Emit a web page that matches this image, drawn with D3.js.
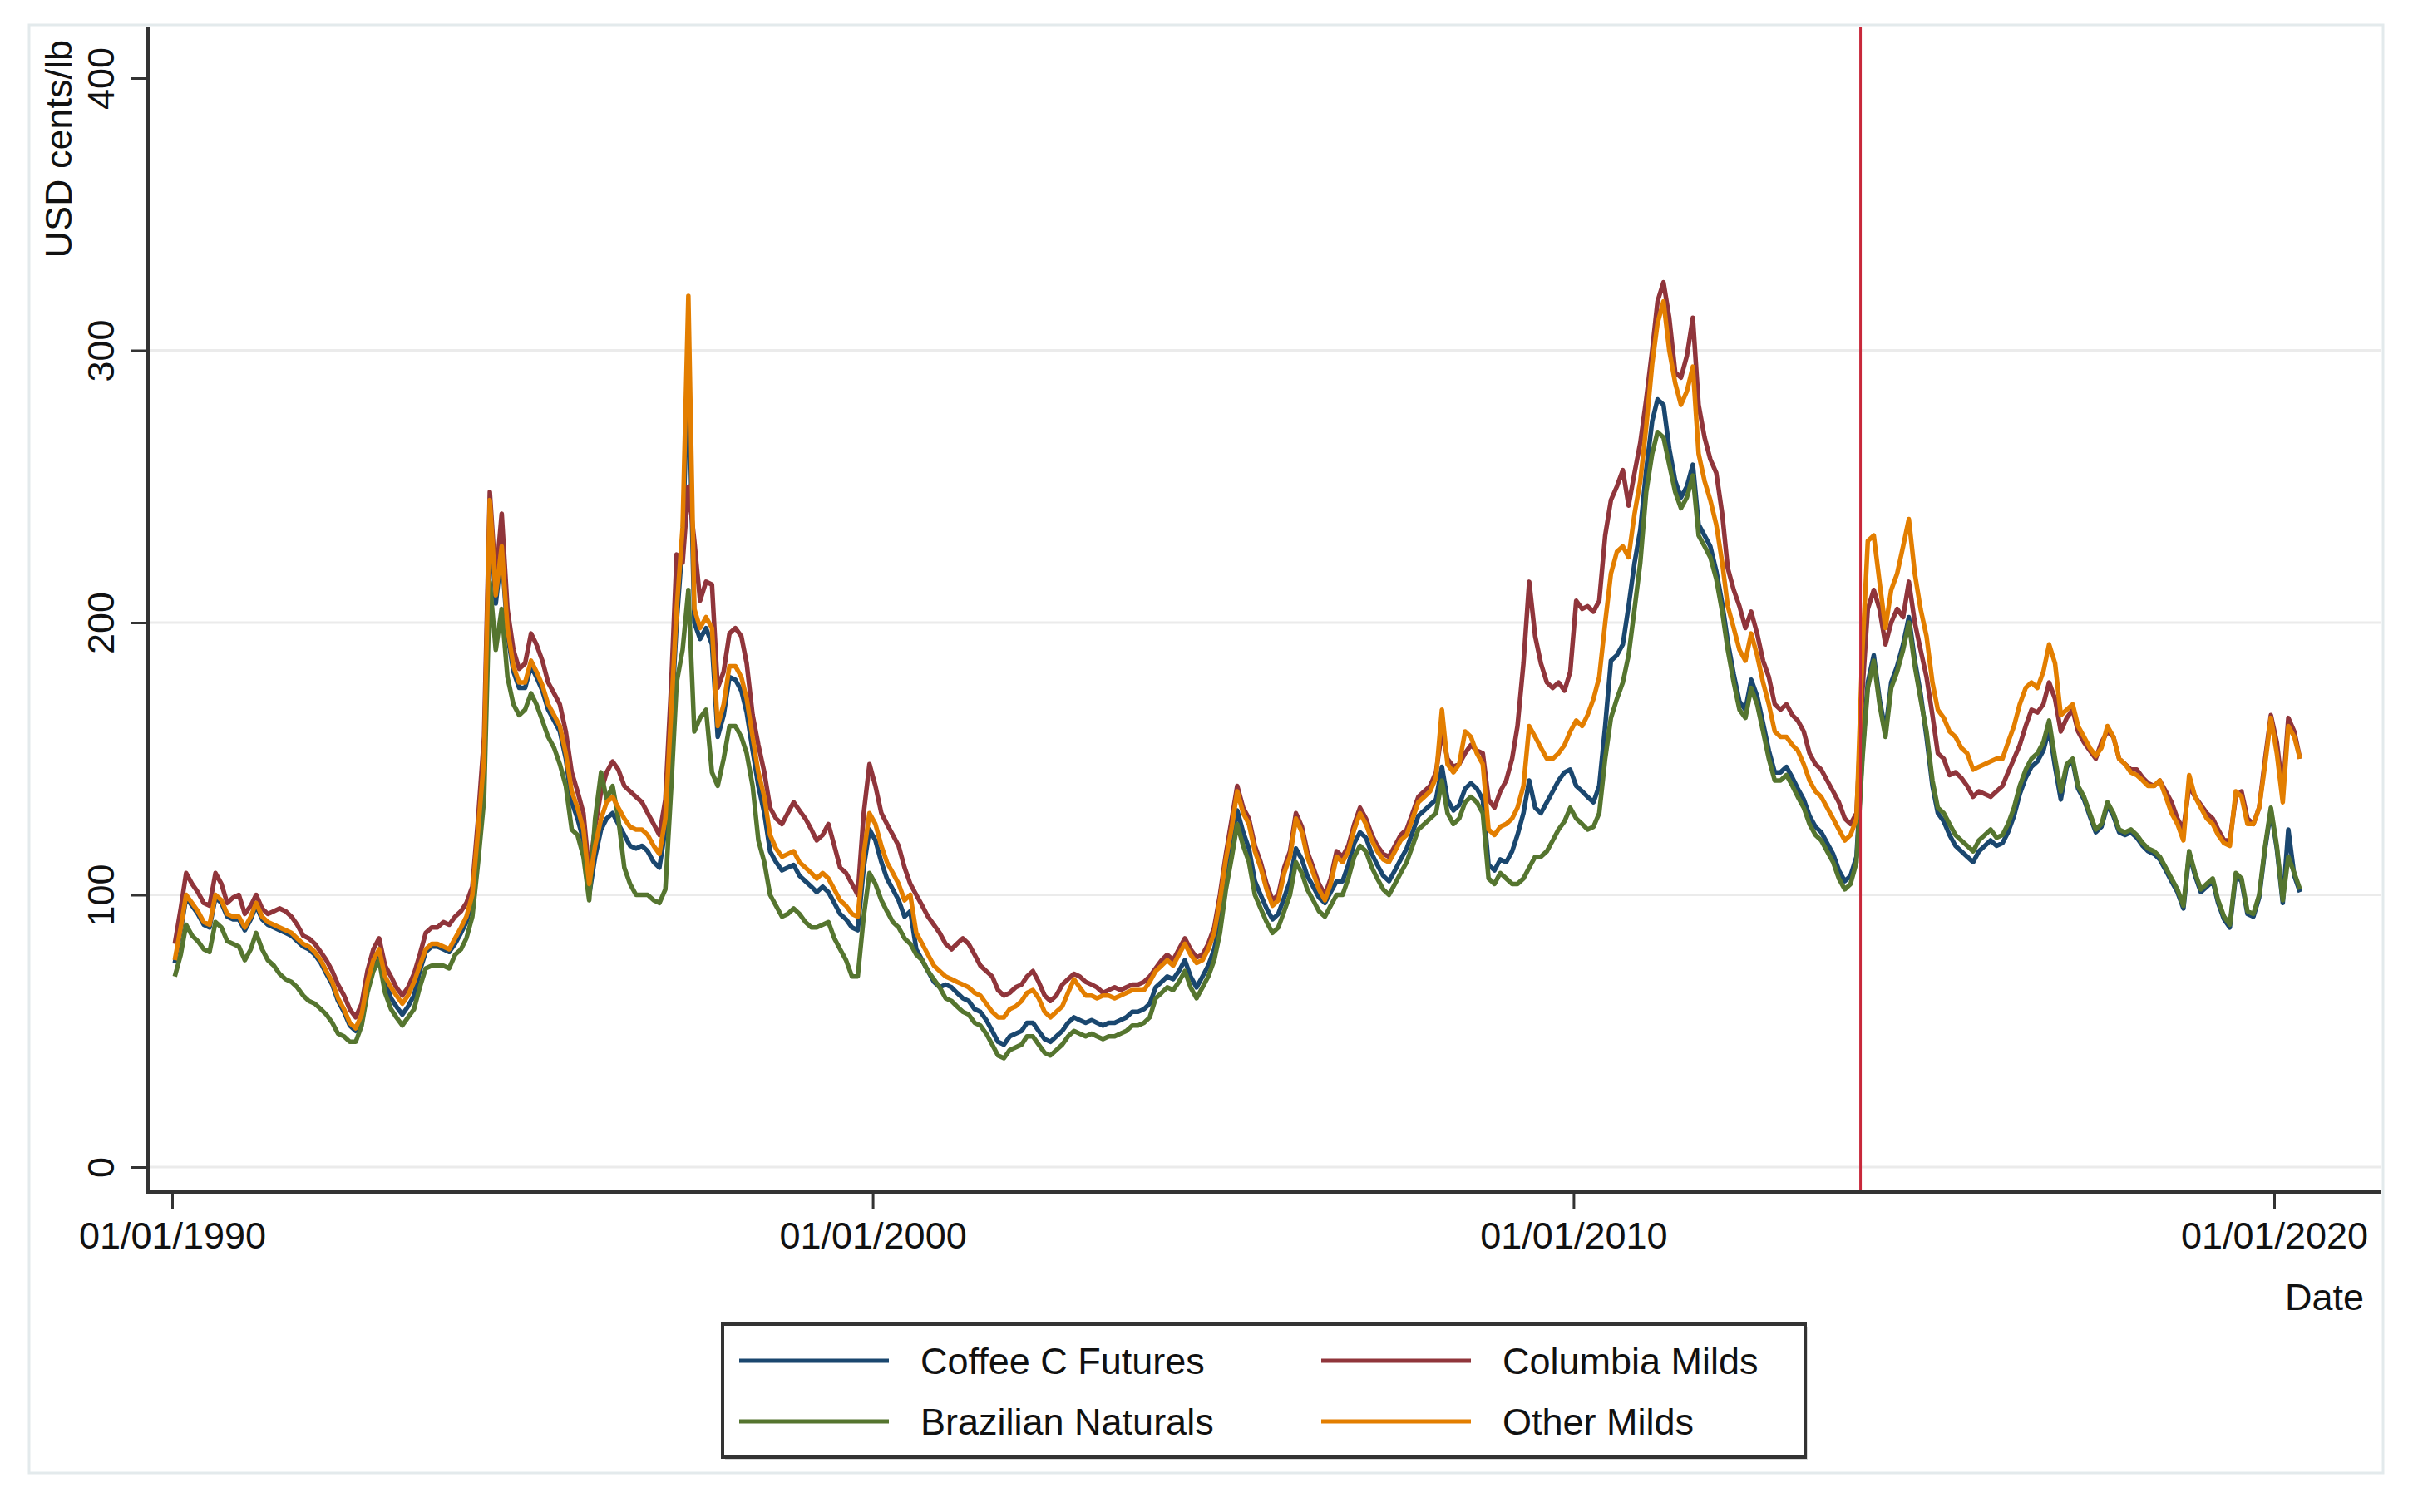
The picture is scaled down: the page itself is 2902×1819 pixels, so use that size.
<!DOCTYPE html>
<html>
<head>
<meta charset="utf-8">
<script src="https://cdn.jsdelivr.net/npm/d3@7"></script>
<style>
  body { margin: 0; background: #fff; }
  svg { display: block; font-family: "Liberation Sans", Arial, Helvetica, sans-serif; }
</style>
</head>
<body>
<svg width="2902" height="1819"></svg>
<script>
// Monthly prices (US cents/lb), Jan 1990 .. May 2020
const coffeeCFutures = [
  75, 87, 99, 96, 93, 89, 88, 99, 97, 92, 91, 91,
  87, 91, 96, 91, 89, 88, 87, 86, 85, 83, 81, 80,
  78, 75, 71, 67, 61, 57, 52, 50, 55, 66, 74, 78,
  68, 62, 59, 56, 59, 63, 72, 79, 81, 81, 80, 79,
  82, 86, 90, 98, 121, 147, 240, 207, 226, 196, 182, 176,
  176, 184, 180, 175, 168, 164, 160, 150, 134, 128, 120, 100,
  114, 124, 128, 130, 126, 122, 118, 117, 118, 116, 112, 110,
  124, 164, 200, 230, 295, 200, 194, 198, 192, 158, 166, 180,
  179, 175, 167, 153, 140, 130, 116, 112, 109, 110, 111, 107,
  105, 103, 101, 103, 101, 97, 93, 91, 88, 87, 110, 124,
  120, 112, 106, 102, 98, 92, 94, 80, 76, 72, 68, 66,
  67, 66, 64, 62, 61, 58, 57, 54, 50, 46, 45, 48,
  49, 50, 53, 53, 50, 47, 46, 48, 50, 53, 55, 54,
  53, 54, 53, 52, 53, 53, 54, 55, 57, 57, 58, 60,
  66, 68, 70, 69, 72, 76, 70, 66, 70, 74, 80, 90,
  107, 119, 131, 123, 117, 105, 100, 95, 91, 93, 99, 105,
  117, 113, 107, 103, 99, 97, 101, 105, 105, 111, 119, 123,
  121, 115, 111, 107, 105, 109, 113, 117, 123, 129, 131, 133,
  135, 147, 135, 131, 133, 139, 141, 139, 135, 111, 109, 113,
  112, 116, 122, 130, 142, 132, 130, 134, 138, 142, 145, 146,
  140, 138, 136, 134, 140, 162, 186, 188, 192, 206, 222, 234,
  256, 274, 282, 280, 264, 252, 246, 250, 258, 236, 232, 228,
  219, 207, 193, 181, 171, 168, 179, 173, 163, 153, 145, 145,
  147, 143, 139, 135, 129, 125, 123, 119, 115, 109, 105, 107,
  114, 152, 178, 188, 172, 160, 178, 184, 192, 202, 186, 174,
  158, 140, 130, 127, 122, 118, 116, 114, 112, 116, 118, 120,
  118, 119, 123, 129, 137, 143, 147, 149, 153, 161, 147, 135,
  147, 149, 139, 135, 129, 123, 125, 133, 129, 123, 122, 123,
  121, 118, 116, 115, 113, 109, 105, 101, 95, 115, 107, 101,
  103, 105, 97, 91, 88, 107, 105, 93, 92, 99, 117, 131,
  117, 97, 124, 107, 101
];

const columbiaMilds = [
  82, 95, 108, 104, 101, 97, 96, 108, 104, 97, 99, 100,
  93, 96, 100, 95, 93, 94, 95, 94, 92, 89, 85, 84,
  82, 79, 76, 72, 67, 63, 58, 55, 60, 72, 80, 84,
  74, 70, 66, 63, 66, 71, 78, 86, 88, 88, 90, 89,
  92, 94, 97, 103, 128, 158, 248, 215, 240, 205, 190, 183,
  185, 196, 192, 186, 178, 174, 170, 160, 145, 138, 130, 108,
  125, 138, 145, 149, 146, 140, 138, 136, 134, 130, 126, 122,
  135, 178, 225, 222, 250, 230, 208, 215, 214, 176, 182, 196,
  198, 195, 185, 166, 155, 145, 132, 128, 126, 130, 134, 131,
  128, 124, 120, 122, 126, 118, 110, 108, 104, 100, 130, 148,
  140, 130, 126, 122, 118, 110, 104, 100, 96, 92, 89, 86,
  82, 80, 82, 84, 82, 78, 74, 72, 70, 65, 63, 64,
  66, 67, 70, 72, 68, 63, 61, 63, 67, 69, 71, 70,
  68, 67, 66, 64, 65, 66, 65, 66, 67, 67, 68, 70,
  73, 76, 78, 76, 80, 84, 80, 77, 78, 82, 88, 100,
  115, 128, 140, 132, 128, 118, 112, 104, 98, 100, 110, 116,
  130, 125, 116, 110, 104, 100, 106, 116, 114, 118, 126, 132,
  128, 122, 118, 115, 114, 118, 122, 124, 130, 136, 138, 140,
  145, 160, 150, 147, 148, 152, 155, 153, 152, 135, 132, 138,
  142, 150, 162, 185, 215, 195, 185, 178, 176, 178, 175, 182,
  208, 205, 206, 204, 208, 232, 245, 250, 256, 243, 255, 266,
  282, 300, 318, 325, 312, 292, 290, 298, 312, 280, 268, 260,
  255, 240, 220, 212, 206, 198, 204, 196, 186, 180, 170, 168,
  170, 166, 164, 160, 152, 148, 146, 142, 138, 134, 128, 126,
  130, 175, 205, 212, 205, 192, 200, 205, 202, 215, 200, 190,
  180, 166, 152, 150, 144, 145, 143, 140, 136, 138, 137, 136,
  138, 140, 145, 150, 155, 162, 168, 167, 170, 178, 172, 160,
  165, 168, 160, 156, 153, 150, 156, 160, 158, 150, 148, 146,
  146, 143, 141, 140, 142, 138, 134, 128, 124, 140, 136, 133,
  130, 128, 124, 120, 120, 136, 138, 128, 126, 132, 150, 166,
  156, 138, 165, 160, 150
];

const brazilianNaturals = [
  70, 78, 89, 85, 83, 80, 79, 90, 88, 83, 82, 81,
  76, 80, 86, 80, 76, 74, 71, 69, 68, 66, 63, 61,
  60, 58, 56, 53, 49, 48, 46, 46, 52, 64, 72, 76,
  64, 58, 55, 52, 55, 58, 66, 73, 74, 74, 74, 73,
  78, 80, 84, 92, 112, 135, 215, 190, 205, 180, 170, 166,
  168, 174, 170, 164, 158, 154, 148, 140, 124, 122, 114, 98,
  128, 145, 135, 140, 128, 110, 104, 100, 100, 100, 98, 97,
  102, 140, 178, 190, 212, 160, 165, 168, 145, 140, 150, 162,
  162, 158, 152, 140, 120, 112, 100, 96, 92, 93, 95, 93,
  90, 88, 88, 89, 90, 84, 80, 76, 70, 70, 92, 108,
  104, 98, 94, 90, 88, 84, 82, 78, 76, 72, 69, 66,
  62, 61, 59, 57, 56, 53, 52, 49, 45, 41, 40, 43,
  44, 45, 48, 48, 45, 42, 41, 43, 45, 48, 50, 49,
  48, 49, 48, 47, 48, 48, 49, 50, 52, 52, 53, 55,
  62, 64, 66, 65, 68, 72, 66, 62, 66, 70, 76, 86,
  102, 114, 126, 118, 112, 100, 95, 90, 86, 88, 94, 100,
  112, 108, 102, 98, 94, 92, 96, 100, 100, 106, 114, 118,
  116, 110, 106, 102, 100, 104, 108, 112, 118, 124, 126, 128,
  130, 142, 130, 126, 128, 134, 136, 134, 130, 106, 104, 108,
  106, 104, 104, 106, 110, 114, 114, 116, 120, 124, 127, 132,
  128, 126, 124, 125, 130, 150, 165, 172, 178, 188, 205, 222,
  248, 262, 270, 268, 258, 248, 242, 246, 254, 232, 228, 224,
  216, 204, 190, 178, 168, 165, 176, 170, 160, 150, 142, 142,
  144, 140, 136, 132, 126, 122, 120, 116, 112, 106, 102, 104,
  112, 150, 176, 186, 170, 158, 176, 182, 190, 200, 184, 172,
  160, 142, 132, 130, 126, 122, 120, 118, 116, 120, 122, 124,
  121, 122, 126, 132, 140, 146, 150, 152, 156, 164, 150, 138,
  148, 150, 140, 136, 130, 124, 126, 134, 130, 124, 123, 124,
  122, 119, 117, 116, 114, 110, 106, 102, 96, 116, 108, 102,
  104, 106, 98, 92, 89, 108, 106, 94, 93, 100, 118, 132,
  118, 98, 114, 108, 102
];

const otherMilds = [
  76, 88, 100, 97, 94, 90, 89, 100, 98, 93, 92, 92,
  88, 92, 97, 92, 90, 89, 88, 87, 86, 84, 82, 81,
  79, 76, 72, 68, 62, 58, 53, 51, 56, 68, 76, 80,
  70, 66, 63, 60, 63, 68, 74, 80, 82, 82, 81, 80,
  84, 88, 92, 100, 124, 150, 245, 210, 228, 198, 184, 178,
  178, 186, 182, 177, 170, 166, 162, 152, 138, 132, 124, 104,
  118, 128, 134, 136, 132, 128, 125, 124, 124, 122, 118, 115,
  128, 168, 205, 235, 320, 205, 198, 202, 198, 162, 170, 184,
  184, 180, 172, 158, 145, 136, 122, 117, 114, 115, 116, 112,
  110, 108, 106, 108, 106, 102, 98, 96, 93, 92, 115, 130,
  126, 118, 112, 108, 104, 98, 100, 86, 82, 78, 74, 72,
  70, 69, 68, 67, 66, 64, 63, 60, 57, 55, 55, 58,
  59, 61, 64, 65, 62, 57, 55, 57, 59, 64, 69, 66,
  63, 63, 62, 63, 63, 62, 63, 64, 65, 65, 65, 68,
  72, 74, 76, 74, 78, 82, 78, 75, 76, 80, 86, 98,
  113, 125, 138, 130, 126, 116, 110, 102, 96, 98, 108, 114,
  128, 123, 114, 108, 102, 98, 104, 114, 112, 116, 124, 130,
  126, 120, 116, 113, 112, 116, 120, 122, 128, 134, 136, 138,
  143, 168, 148, 145, 148, 160, 158, 152, 148, 124, 122, 125,
  126, 128, 132, 140, 162, 158, 154, 150, 150, 152, 155, 160,
  164, 162, 166, 172, 180, 200, 218, 226, 228, 224, 240, 252,
  272, 295, 310, 318, 300, 288, 280, 285, 294, 262, 252, 245,
  236, 222, 206, 198, 190, 186, 196, 188, 178, 170, 160, 158,
  158, 155, 153, 148, 142, 138, 136, 132, 128, 124, 120, 122,
  128, 190, 230, 232, 215, 198, 212, 218, 228, 238, 218, 205,
  195, 178, 168, 165, 160, 158, 154, 152, 146, 147, 148, 149,
  150, 150, 156, 162, 170, 176, 178, 176, 182, 192, 185, 166,
  168, 170, 162, 158, 154, 151, 154, 162, 158, 150, 148, 145,
  144, 142, 140, 140, 142, 136, 130, 126, 120, 144, 136, 132,
  128, 126, 122, 119, 118, 138, 136, 126, 126, 132, 148, 165,
  152, 134, 162, 158, 150
];

const seriesNames = ["Coffee C Futures", "Columbia Milds", "Brazilian Naturals", "Other Milds"];
const seriesColors = ["#1a476f", "#90353b", "#55752f", "#e37e00"];
const yTicks = [0, 100, 200, 300, 400];
const yGrid = [0, 100, 200, 300];
const xTickYears = [1990, 2000, 2010, 2020];
const xTickLabels = ["01/01/1990", "01/01/2000", "01/01/2010", "01/01/2020"];

const svg = d3.select("svg");
const plotLeft = 178, plotRight = 2864, plotTop = 33, plotBottom = 1434;
const font = 45;

// tick dates pinned where they sit, then widened out to the plot edges
const xBase = d3.scaleUtc()
  .domain([new Date(Date.UTC(1990, 0, 1)), new Date(Date.UTC(2020, 0, 1))])
  .range([207, 2735]);
const x = d3.scaleUtc()
  .domain([xBase.invert(plotLeft), xBase.invert(plotRight)])
  .range([plotLeft, plotRight]);
const y = d3.scaleLinear().domain([0, 400]).range([1404, 94]);

const dates = columbiaMilds.map((d, i) => new Date(Date.UTC(1990, i, 15)));
const series = [coffeeCFutures, columbiaMilds, brazilianNaturals, otherMilds]
  .map((vals, k) => ({ name: seriesNames[k], color: seriesColors[k], values: vals }));

// outer frame
svg.append("rect")
  .attr("x", 35).attr("y", 30)
  .attr("width", 2831).attr("height", 1742)
  .attr("fill", "none")
  .attr("stroke", "#e3eaec")
  .attr("stroke-width", 3);

// gridlines
svg.selectAll(".grid")
  .data(yGrid)
  .enter()
  .append("line")
  .attr("class", "grid")
  .attr("x1", plotLeft).attr("x2", plotRight)
  .attr("y1", d => y(d)).attr("y2", d => y(d))
  .attr("stroke", "#ebebeb")
  .attr("stroke-width", 3);

const line = d3.line()
  .x((d, i) => x(dates[i]))
  .y(d => y(d));

svg.selectAll(".series")
  .data(series)
  .enter()
  .append("path")
  .attr("class", "series")
  .attr("d", d => line(d.values))
  .attr("fill", "none")
  .attr("stroke", d => d.color)
  .attr("stroke-width", 5.5)
  .attr("stroke-linejoin", "round");

// event marker
const eventDate = new Date(Date.UTC(2014, 1, 5));
svg.append("line")
  .attr("x1", x(eventDate)).attr("x2", x(eventDate))
  .attr("y1", plotTop).attr("y2", plotBottom)
  .attr("stroke", "#c8283a")
  .attr("stroke-width", 3);

// axis lines
svg.append("line")
  .attr("x1", plotLeft).attr("x2", plotLeft)
  .attr("y1", plotTop).attr("y2", plotBottom + 2)
  .attr("stroke", "#333").attr("stroke-width", 4);
svg.append("line")
  .attr("x1", plotLeft).attr("x2", plotRight)
  .attr("y1", plotBottom).attr("y2", plotBottom)
  .attr("stroke", "#333").attr("stroke-width", 4);

const yAxis = d3.axisLeft(y).tickValues(yTicks).tickSize(20).tickFormat(d3.format("d"));
svg.append("g")
  .attr("transform", `translate(${plotLeft},0)`)
  .call(yAxis)
  .call(g => g.select(".domain").remove())
  .call(g => g.selectAll(".tick line").attr("stroke", "#333").attr("stroke-width", 3))
  .call(g => g.selectAll(".tick text")
    .attr("x", null).attr("dy", null)
    .attr("transform", "translate(-41,0) rotate(-90)")
    .attr("text-anchor", "middle")
    .attr("font-size", font)
    .attr("fill", "#111"));

const xAxis = d3.axisBottom(x)
  .tickValues(xTickYears.map(yr => new Date(Date.UTC(yr, 0, 1))))
  .tickSize(21)
  .tickFormat((d, i) => xTickLabels[i]);
svg.append("g")
  .attr("transform", `translate(0,${plotBottom})`)
  .call(xAxis)
  .call(g => g.select(".domain").remove())
  .call(g => g.selectAll(".tick line").attr("stroke", "#333").attr("stroke-width", 3))
  .call(g => g.selectAll(".tick text")
    .attr("y", 68).attr("dy", null)
    .attr("font-size", font)
    .attr("fill", "#111"));

svg.selectAll("g").attr("font-family", null);

// axis titles
svg.append("text")
  .attr("transform", "translate(86,48) rotate(-90)")
  .attr("text-anchor", "end")
  .attr("font-size", font)
  .attr("fill", "#111")
  .text("USD cents/lb");

svg.append("text")
  .attr("x", 2843).attr("y", 1576)
  .attr("text-anchor", "end")
  .attr("font-size", font)
  .attr("fill", "#111")
  .text("Date");

// legend
const legend = svg.append("g");
legend.append("rect")
  .attr("x", 872).attr("y", 1597)
  .attr("width", 1302).attr("height", 160)
  .attr("fill", "#d8d8d8");
legend.append("rect")
  .attr("x", 869).attr("y", 1593)
  .attr("width", 1302).attr("height", 160)
  .attr("fill", "#fff")
  .attr("stroke", "#333")
  .attr("stroke-width", 4);

const legendCols = [889, 1589];
const legendRows = [1637, 1710];
const items = legend.selectAll(".item")
  .data(series)
  .enter()
  .append("g")
  .attr("class", "item")
  .attr("transform", (d, i) => `translate(${legendCols[i % 2]},${legendRows[Math.floor(i / 2)]})`);
items.append("line")
  .attr("x1", 0).attr("x2", 180)
  .attr("stroke", d => d.color)
  .attr("stroke-width", 5);
items.append("text")
  .attr("x", 218).attr("y", 16)
  .attr("font-size", font)
  .attr("fill", "#111")
  .text(d => d.name);
</script>
</body>
</html>
